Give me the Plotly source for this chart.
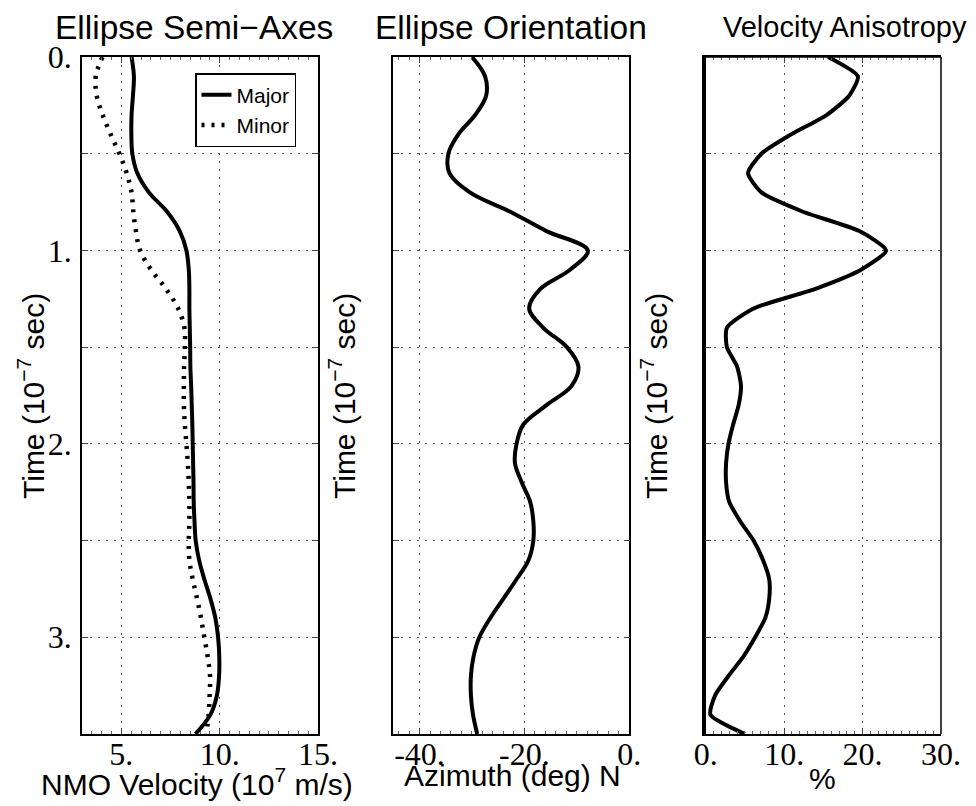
import plotly.graph_objects as go

# ---- data ----
time = [0.0, 0.1, 0.2, 0.3, 0.4, 0.5, 0.6, 0.7, 0.8, 0.9, 1.0, 1.1, 1.2, 1.3, 1.4, 1.5, 1.6, 1.7,
        1.8, 1.9, 2.0, 2.1, 2.2, 2.3, 2.4, 2.5, 2.6, 2.7, 2.8, 2.9, 3.0, 3.1, 3.2, 3.3, 3.4, 3.5]

major = [5.52, 5.64, 5.59, 5.52, 5.51, 5.56, 5.81, 6.40, 7.33, 7.97, 8.31, 8.43, 8.46, 8.46, 8.48, 8.50, 8.51, 8.55,
         8.58, 8.61, 8.63, 8.65, 8.67, 8.68, 8.72, 8.78, 8.95, 9.22, 9.53, 9.78, 9.92, 9.98, 9.97, 9.86, 9.53, 8.77]

minor = [4.04, 3.70, 3.75, 4.05, 4.46, 4.90, 5.27, 5.52, 5.61, 5.74, 5.95, 6.52, 7.28, 7.89, 8.21, 8.23, 8.19, 8.18,
         8.18, 8.23, 8.31, 8.38, 8.43, 8.46, 8.46, 8.43, 8.46, 8.63, 8.85, 9.05, 9.22, 9.39, 9.51, 9.49, 9.44, 9.32]

azimuth = [-30.0, -27.5, -27.3, -29.4, -32.6, -34.5, -34.3, -30.4, -22.7, -15.8, -7.9, -11.3, -17.0, -19.1, -16.4,
           -11.9, -9.7, -11.0, -15.8, -20.2, -21.5, -21.8, -20.5, -18.9, -18.3, -18.3, -19.2, -21.5, -24.0, -26.5,
           -28.6, -29.7, -30.2, -30.2, -29.8, -29.0]

aniso = [15.6, 19.4, 18.3, 15.4, 10.9, 7.1, 5.4, 7.1, 12.4, 19.6, 23.0, 19.8, 13.9, 6.1, 2.7, 2.7, 4.0, 4.5,
         4.2, 3.5, 2.9, 2.6, 2.6, 3.0, 4.4, 6.1, 7.3, 8.1, 8.1, 7.6, 6.3, 4.8, 2.9, 1.2, 0.6, 5.0]

y_tickvals = [0, 1, 2, 3]
y_ticktext = ["0.", "1.", "2.", "3."]
x1_ticks = [5, 10, 15]
x1_text = ["5.", "10.", "15."]
x2_ticks = [-40, -20, 0]
x2_text = ["-40.", "-20.", "0."]
x3_ticks = [0, 10, 20, 30]
x3_text = ["0.", "10.", "20.", "30."]

W, H = 976, 806
L, R, T, B = 82, 35, 57, 72
PW, PH = W - L - R, H - T - B
SANS = "Liberation Sans"
SERIF = "Liberation Serif"


def fx(p):
    return (p - L) / PW


def fy(p):
    return 1 - (p - T) / PH


panels = [(82, 318), (393.3, 629.3), (705.7, 941)]

fig = go.Figure()
fig.add_trace(go.Scatter(x=major, y=time, mode="lines", name="Major",
                         line=dict(color="black", width=4, shape="spline", smoothing=1),
                         xaxis="x", yaxis="y"))
fig.add_trace(go.Scatter(x=minor, y=time, mode="lines", name="Minor",
                         line=dict(color="black", width=4.5, dash="3px,7px", shape="spline", smoothing=1),
                         xaxis="x", yaxis="y"))
fig.add_trace(go.Scatter(x=azimuth, y=time, mode="lines", showlegend=False,
                         line=dict(color="black", width=4, shape="spline", smoothing=1),
                         xaxis="x2", yaxis="y2"))
fig.add_trace(go.Scatter(x=aniso, y=time, mode="lines", showlegend=False,
                         line=dict(color="black", width=4, shape="spline", smoothing=0.6),
                         xaxis="x3", yaxis="y3"))

GRID = dict(gridcolor="#555", gridwidth=1, griddash="2px,6px")
common_ax = dict(showline=True, linecolor="black", linewidth=1.5, mirror="ticks",
                 ticks="inside", ticklen=6, tickcolor="#444", tickwidth=1,
                 showgrid=True, zeroline=False, automargin=False,
                 tickfont=dict(family=SERIF, size=32, color="black"), **GRID)


def xax(dom, rng, tv, tt, anchor, mdt):
    d = dict(common_ax)
    d.update(domain=[fx(dom[0]), fx(dom[1])], range=rng, tickmode="array",
             tickvals=tv, ticktext=tt, anchor=anchor, ticklabelstandoff=-9,
             minor=dict(ticks="inside", ticklen=3, tickcolor="#666", dtick=mdt, showgrid=False))
    return d


def yax(anchor, show):
    d = dict(common_ax)
    d.update(domain=[0, 1], range=[3.5, 0], tickmode="array", tickvals=y_tickvals,
             ticktext=y_ticktext, anchor=anchor, showticklabels=show, ticklabelstandoff=2,
             minor=dict(ticks="inside", ticklen=6, tickcolor="#444", tick0=0, dtick=0.5,
                        showgrid=True, **GRID))
    return d


fig.update_layout(
    width=W, height=H, margin=dict(l=L, r=R, t=T, b=B, autoexpand=False),
    paper_bgcolor="white", plot_bgcolor="white",
    xaxis=xax(panels[0], [3, 15], x1_ticks, x1_text, "y", 0.5),
    xaxis2=xax(panels[1], [-45, 0], x2_ticks, x2_text, "y2", 2),
    xaxis3=xax(panels[2], [0, 30], x3_ticks, x3_text, "y3", 1),
    yaxis=yax("x", True),
    yaxis2=yax("x2", False),
    yaxis3=yax("x3", False),
    showlegend=True,
    legend=dict(x=fx(195), y=fy(73), xanchor="left", yanchor="top",
                bgcolor="white", bordercolor="black", borderwidth=1.5,
                font=dict(family=SANS, size=21, color="black"),
                tracegroupgap=0, itemwidth=30),
)
fig.update_layout(yaxis3=dict(linewidth=3.5, mirror=False))
fig.add_shape(type="line", xref="x3 domain", yref="y3 domain", x0=1, x1=1, y0=0, y1=1,
              line=dict(color="black", width=1.5))
fig.add_shape(type="line", xref="x3 domain", yref="y3 domain", x0=0, x1=1, y0=1, y1=1,
              line=dict(color="black", width=1.5))

# titles
titles = [("Ellipse Semi\u2212Axes", 194, 33.5), ("Ellipse Orientation", 511, 33.5),
          ("Velocity Anisotropy", 845, 29)]
for txt, cx, fs in titles:
    fig.add_annotation(text=txt, x=fx(cx), y=fy(27), xref="paper", yref="paper",
                       xanchor="center", yanchor="middle", showarrow=False,
                       font=dict(family=SANS, size=fs, color="black"))

xtitles = [("NMO Velocity (10<sup>7</sup> m/s)", 197, 782), ("Azimuth (deg) N", 512, 775), ("%", 822, 778)]
for txt, cx, cy in xtitles:
    fig.add_annotation(text=txt, x=fx(cx), y=fy(cy), xref="paper", yref="paper",
                       xanchor="center", yanchor="middle", showarrow=False,
                       font=dict(family=SANS, size=30, color="black"))

for cx in [31, 342, 654]:
    fig.add_annotation(text="Time (10<sup>\u22127</sup> sec)", x=fx(cx), y=fy(396),
                       xref="paper", yref="paper", xanchor="center", yanchor="middle",
                       textangle=-90, showarrow=False,
                       font=dict(family=SANS, size=30, color="black"))

fig.write_html("out.html", config={"displayModeBar": False},
               post_script="document.body.style.margin='0';")
